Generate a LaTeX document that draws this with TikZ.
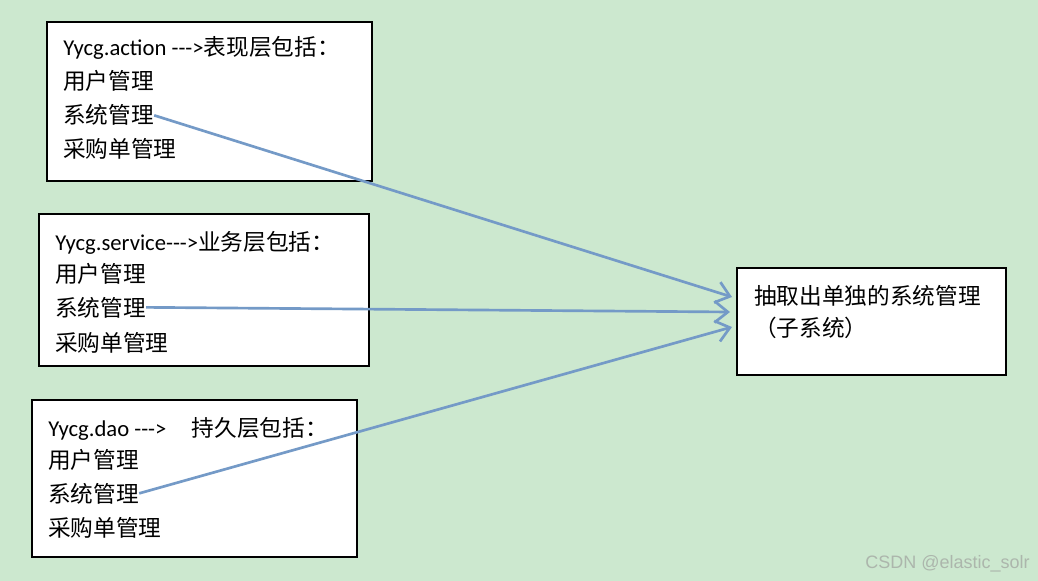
\documentclass[tikz,border=0pt]{standalone}
\usepackage{fontspec}
\setmainfont{Carlito}
\newfontfamily\cjk{Noto Sans CJK SC}
\newfontfamily\markfont{Liberation Sans}
\usetikzlibrary{arrows.meta}
\definecolor{pageGreen}{RGB}{204,232,207}
\definecolor{linkBlue}{RGB}{116,154,199}
\definecolor{markGray}{RGB}{172,182,172}
\newcommand{\dasharrow}{{-}{-}{-}{>}}
\tikzset{
  layer/.style={draw=black, line width=1.6pt, fill=white},
  row/.style={anchor=base west, inner sep=0pt, font=\fontsize{17pt}{20pt}\selectfont},
  link/.style={-{Straight Barb[length=10pt,width=16pt]}, draw=linkBlue, line width=2pt},
  watermark/.style={anchor=base east, inner sep=0pt, font=\markfont\fontsize{13.5pt}{16pt}\selectfont},
}

\begin{document}
\begin{tikzpicture}[x=0.75pt, y=-0.75pt]
  \fill[pageGreen] (0,0) rectangle (1038,581);
  \useasboundingbox (0,0) rectangle (1038,581);

  \draw[layer] (47,22) rectangle (372,181);
  \node[row] (a1) at (63,56)  {Yycg.action \dasharrow{\cjk 表现层包括：}};
  \node[row] (a2) at (63,90)  {\cjk 用户管理};
  \node[row] (a3) at (63,124) {\cjk 系统管理};
  \node[row] (a4) at (63,158) {\cjk 采购单管理};

  \draw[layer] (39,214) rectangle (369,366);
  \node[row] (b1) at (55,250) {Yycg.service\dasharrow{\cjk 业务层包括：}};
  \node[row] (b2) at (55,282) {\cjk 用户管理};
  \node[row] (b3) at (55,316) {\cjk 系统管理};
  \node[row] (b4) at (55,351) {\cjk 采购单管理};

  \draw[layer] (32,400) rectangle (357,557);
  \node[row] (c1) at (48,436) {Yycg.dao \dasharrow\hspace{19pt}{\cjk 持久层包括：}};
  \node[row] (c2) at (48,468) {\cjk 用户管理};
  \node[row] (c3) at (48,502) {\cjk 系统管理};
  \node[row] (c4) at (48,536) {\cjk 采购单管理};

  \draw[layer] (737,268) rectangle (1006,375);
  \node[row] (s1) at (754,304) {\cjk 抽取出单独的系统管理};
  \node[row] (s2) at (754,336) {\cjk （子系统）};

  \coordinate (t1) at (732,297);
  \coordinate (t2) at (730,312);
  \coordinate (t3) at (732,327);
  \draw[link] (a3.east) -- (t1);
  \draw[link] (b3.east) -- (t2);
  \draw[link] (c3.east) -- (t3);

  \node[watermark, text=markGray] (wm) at (1030,568) {CSDN @elastic\_solr};
\end{tikzpicture}
\end{document}
